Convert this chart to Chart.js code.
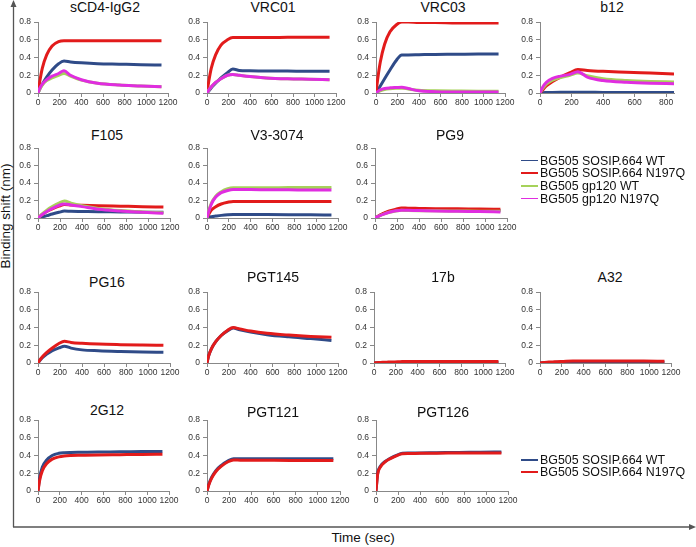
<!DOCTYPE html>
<html>
<head>
<meta charset="utf-8">
<script src="https://cdn.jsdelivr.net/npm/chart.js@4"></script>
<style>
  body { margin: 0; background: #fff; width: 696px; height: 547px; overflow: hidden; position: relative;
         font-family: "Liberation Sans", Arial, sans-serif; }
  canvas { position: absolute; }
  .ttl { position: absolute; font-size: 14px; color: #111; transform: translate(-50%, -50%); white-space: nowrap; }
  .legline { position: absolute; width: 17px; height: 1.5px; }
  .legtxt { position: absolute; font-size: 12.4px; color: #111; white-space: nowrap; transform: translateY(-50%); }
  .axtitle { position: absolute; font-size: 13.5px; color: #111; white-space: nowrap; }
</style>
</head>
<body>
<svg width="696" height="547" style="position:absolute;left:0;top:0">
  <line x1="13.5" y1="527" x2="13.5" y2="3" stroke="#555" stroke-width="1.3"/>
  <polygon points="13.5,0 10.5,7 16.5,7" fill="#555"/>
  <line x1="13" y1="527" x2="692" y2="527" stroke="#555" stroke-width="1.3"/>
  <polygon points="696,527 689,524 689,530" fill="#555"/>
</svg>
<div class="axtitle" style="left:5px;top:216px;transform:translate(-50%,-50%) rotate(-90deg)">Binding shift (nm)</div>
<div class="axtitle" style="left:363px;top:537px;transform:translate(-50%,-50%)">Time (sec)</div>

<script>
// tijdpunten (sec) en ticks
const timeSec = [0, 15, 40, 80, 130, 190, 240, 300, 400, 550, 750, 950, 1140];
const timeB12 = [0, 15, 40, 80, 130, 190, 240, 300, 400, 550, 700, 850];
const yTicks = [0, 0.2, 0.4, 0.6, 0.8];
const xTicks = [0, 200, 400, 600, 800, 1000, 1200];
const xTicksB12 = [0, 200, 400, 600, 800];

const seriesNames = ['BG505 SOSIP.664 WT', 'BG505 SOSIP.664 N197Q', 'BG505 gp120 WT', 'BG505 gp120 N197Q'];
const seriesColors = ['#2f4b88', '#e21b1b', '#a6d25a', '#e02de0'];

// sCD4-IgG2
const sCD4WT      = [0, 0.04, 0.10, 0.18, 0.26, 0.33, 0.36, 0.35, 0.34, 0.33, 0.325, 0.32, 0.315];
const sCD4N197Q   = [0, 0.12, 0.28, 0.43, 0.53, 0.58, 0.59, 0.59, 0.59, 0.59, 0.59, 0.59, 0.59];
const sCD4GpWT    = [0, 0.04, 0.09, 0.14, 0.17, 0.20, 0.22, 0.19, 0.145, 0.11, 0.09, 0.08, 0.07];
const sCD4GpN197Q = [0, 0.05, 0.10, 0.15, 0.19, 0.22, 0.25, 0.20, 0.15, 0.11, 0.09, 0.08, 0.07];
// VRC01
const vrc01WT      = [0, 0.02, 0.06, 0.11, 0.17, 0.23, 0.27, 0.255, 0.25, 0.248, 0.247, 0.245, 0.245];
const vrc01N197Q   = [0, 0.12, 0.28, 0.43, 0.54, 0.60, 0.625, 0.625, 0.625, 0.625, 0.628, 0.63, 0.63];
const vrc01GpWT    = [0, 0.03, 0.07, 0.12, 0.16, 0.20, 0.21, 0.20, 0.185, 0.17, 0.16, 0.155, 0.15];
const vrc01GpN197Q = [0, 0.03, 0.07, 0.12, 0.16, 0.20, 0.21, 0.20, 0.185, 0.17, 0.16, 0.155, 0.15];
// VRC03
const vrc03WT      = [0, 0.03, 0.08, 0.16, 0.26, 0.37, 0.43, 0.43, 0.432, 0.435, 0.437, 0.44, 0.44];
const vrc03N197Q   = [0, 0.15, 0.35, 0.55, 0.69, 0.77, 0.80, 0.80, 0.795, 0.795, 0.79, 0.79, 0.79];
const vrc03GpWT    = [0, 0.01, 0.025, 0.04, 0.048, 0.053, 0.055, 0.045, 0.03, 0.025, 0.022, 0.02, 0.02];
const vrc03GpN197Q = [0, 0.015, 0.035, 0.05, 0.058, 0.062, 0.065, 0.05, 0.025, 0.015, 0.012, 0.01, 0.01];
// b12
const b12WT      = [0, 0.003, 0.005, 0.007, 0.008, 0.008, 0.008, 0.008, 0.007, 0.007, 0.007, 0.007];
const b12N197Q   = [0, 0.03, 0.08, 0.13, 0.18, 0.23, 0.265, 0.255, 0.245, 0.235, 0.225, 0.215];
const b12GpWT    = [0, 0.045, 0.10, 0.145, 0.175, 0.20, 0.225, 0.195, 0.16, 0.14, 0.13, 0.125];
const b12GpN197Q = [0, 0.06, 0.12, 0.165, 0.19, 0.21, 0.24, 0.18, 0.14, 0.12, 0.11, 0.105];
// F105
const f105WT      = [0, 0.005, 0.013, 0.027, 0.045, 0.065, 0.08, 0.077, 0.075, 0.072, 0.07, 0.067, 0.065];
const f105N197Q   = [0, 0.015, 0.04, 0.075, 0.105, 0.135, 0.155, 0.15, 0.145, 0.14, 0.135, 0.13, 0.125];
const f105GpWT    = [0, 0.02, 0.05, 0.09, 0.13, 0.17, 0.195, 0.17, 0.14, 0.11, 0.085, 0.07, 0.06];
const f105GpN197Q = [0, 0.015, 0.04, 0.075, 0.11, 0.145, 0.16, 0.15, 0.13, 0.10, 0.08, 0.065, 0.055];
// V3-3074
const v3WT      = [0, 0.008, 0.015, 0.022, 0.03, 0.037, 0.04, 0.04, 0.04, 0.039, 0.038, 0.037, 0.035];
const v3N197Q   = [0, 0.04, 0.09, 0.13, 0.16, 0.18, 0.19, 0.19, 0.19, 0.19, 0.19, 0.19, 0.19];
const v3GpWT    = [0, 0.08, 0.17, 0.25, 0.30, 0.335, 0.345, 0.345, 0.345, 0.347, 0.348, 0.35, 0.35];
const v3GpN197Q = [0, 0.07, 0.16, 0.24, 0.29, 0.315, 0.325, 0.325, 0.325, 0.323, 0.322, 0.32, 0.32];
// PG9
const pg9WT      = [0, 0.01, 0.028, 0.05, 0.072, 0.09, 0.10, 0.098, 0.095, 0.092, 0.09, 0.087, 0.085];
const pg9N197Q   = [0, 0.01, 0.03, 0.055, 0.08, 0.10, 0.115, 0.112, 0.11, 0.107, 0.105, 0.102, 0.10];
const pg9GpWT    = [0, 0.01, 0.025, 0.045, 0.065, 0.08, 0.088, 0.086, 0.084, 0.082, 0.08, 0.078, 0.076];
const pg9GpN197Q = [0, 0.01, 0.025, 0.045, 0.066, 0.082, 0.09, 0.088, 0.085, 0.08, 0.077, 0.073, 0.07];
// PG16
const pg16WT    = [0, 0.025, 0.06, 0.10, 0.14, 0.17, 0.19, 0.168, 0.148, 0.138, 0.13, 0.124, 0.12];
const pg16N197Q = [0, 0.03, 0.07, 0.12, 0.17, 0.22, 0.245, 0.232, 0.222, 0.213, 0.207, 0.203, 0.20];
// PGT145
const pgt145WT    = [0, 0.08, 0.16, 0.24, 0.31, 0.365, 0.395, 0.375, 0.35, 0.32, 0.295, 0.275, 0.255];
const pgt145N197Q = [0, 0.08, 0.16, 0.24, 0.31, 0.37, 0.40, 0.385, 0.36, 0.335, 0.315, 0.30, 0.29];
// 17b
const b17WT    = [0, 0.002, 0.004, 0.005, 0.005, 0.005, 0.006, 0.006, 0.006, 0.006, 0.006, 0.006, 0.006];
const b17N197Q = [0, 0.002, 0.005, 0.008, 0.01, 0.012, 0.015, 0.018, 0.018, 0.018, 0.018, 0.018, 0.018];
// A32
const a32WT    = [0, 0.002, 0.004, 0.006, 0.007, 0.008, 0.008, 0.008, 0.008, 0.008, 0.008, 0.008, 0.008];
const a32N197Q = [0, 0.003, 0.006, 0.01, 0.013, 0.016, 0.02, 0.022, 0.022, 0.022, 0.022, 0.022, 0.02];
// 2G12
const g12WT    = [0, 0.15, 0.27, 0.35, 0.40, 0.425, 0.432, 0.435, 0.437, 0.44, 0.442, 0.445, 0.447];
const g12N197Q = [0, 0.12, 0.23, 0.31, 0.36, 0.385, 0.395, 0.40, 0.403, 0.407, 0.41, 0.413, 0.415];
// PGT121
const pgt121WT    = [0, 0.07, 0.15, 0.23, 0.29, 0.34, 0.365, 0.365, 0.365, 0.365, 0.365, 0.365, 0.365];
const pgt121N197Q = [0, 0.065, 0.14, 0.22, 0.28, 0.33, 0.35, 0.348, 0.347, 0.346, 0.345, 0.345, 0.345];
// PGT126
const pgt126WT    = [0, 0.20, 0.28, 0.33, 0.37, 0.405, 0.425, 0.428, 0.43, 0.432, 0.435, 0.437, 0.44];
const pgt126N197Q = [0, 0.19, 0.27, 0.325, 0.365, 0.40, 0.42, 0.422, 0.425, 0.427, 0.428, 0.43, 0.43];

// paneel posities: x0/x1 = pixel van 0 en xmax, yT/yB = pixel van 0.8 en 0
const panels = [
  { title: 'sCD4-IgG2', tx: 105, ty: 7,   x0: 38,  x1: 168, yT: 20,  yB: 93,  t: timeSec, xMax: 1200, xt: xTicks, s: [sCD4WT, sCD4N197Q, sCD4GpWT, sCD4GpN197Q] },
  { title: 'VRC01',     tx: 273, ty: 7,   x0: 207, x1: 336, yT: 20,  yB: 93,  t: timeSec, xMax: 1200, xt: xTicks, s: [vrc01WT, vrc01N197Q, vrc01GpWT, vrc01GpN197Q] },
  { title: 'VRC03',     tx: 443, ty: 7,   x0: 376, x1: 505, yT: 20,  yB: 93,  t: timeSec, xMax: 1200, xt: xTicks, s: [vrc03WT, vrc03N197Q, vrc03GpWT, vrc03GpN197Q] },
  { title: 'b12',       tx: 612, ty: 7,   x0: 540, x1: 674, yT: 20,  yB: 93,  t: timeB12, xMax: 850,  xt: xTicksB12, s: [b12WT, b12N197Q, b12GpWT, b12GpN197Q] },
  { title: 'F105',      tx: 107, ty: 135, x0: 38,  x1: 170, yT: 146, yB: 218, t: timeSec, xMax: 1200, xt: xTicks, s: [f105WT, f105N197Q, f105GpWT, f105GpN197Q] },
  { title: 'V3-3074',   tx: 277, ty: 135, x0: 207, x1: 338, yT: 146, yB: 218, t: timeSec, xMax: 1200, xt: xTicks, s: [v3WT, v3N197Q, v3GpWT, v3GpN197Q] },
  { title: 'PG9',       tx: 450, ty: 135, x0: 375, x1: 507, yT: 146, yB: 218, t: timeSec, xMax: 1200, xt: xTicks, s: [pg9WT, pg9N197Q, pg9GpWT, pg9GpN197Q] },
  { title: 'PG16',      tx: 107, ty: 282, x0: 38,  x1: 170, yT: 290, yB: 363, t: timeSec, xMax: 1200, xt: xTicks, s: [pg16WT, pg16N197Q] },
  { title: 'PGT145',    tx: 273, ty: 277, x0: 207, x1: 338, yT: 290, yB: 363, t: timeSec, xMax: 1200, xt: xTicks, s: [pgt145WT, pgt145N197Q] },
  { title: '17b',       tx: 443, ty: 277, x0: 374, x1: 505, yT: 290, yB: 363, t: timeSec, xMax: 1200, xt: xTicks, s: [b17WT, b17N197Q] },
  { title: 'A32',       tx: 610, ty: 277, x0: 540, x1: 671, yT: 290, yB: 363, t: timeSec, xMax: 1200, xt: xTicks, s: [a32WT, a32N197Q] },
  { title: '2G12',      tx: 107, ty: 410, x0: 38,  x1: 169, yT: 418, yB: 491, t: timeSec, xMax: 1200, xt: xTicks, s: [g12WT, g12N197Q] },
  { title: 'PGT121',    tx: 273, ty: 412, x0: 207, x1: 340, yT: 418, yB: 491, t: timeSec, xMax: 1200, xt: xTicks, s: [pgt121WT, pgt121N197Q] },
  { title: 'PGT126',    tx: 443, ty: 412, x0: 376, x1: 508, yT: 418, yB: 491, t: timeSec, xMax: 1200, xt: xTicks, s: [pgt126WT, pgt126N197Q] }
];

Chart.defaults.font.family = '"Liberation Sans", Arial, sans-serif';
Chart.defaults.color = '#333';

const LEFT = 34, TOP = 6, RIGHT = 14, BOTTOM = 16;

panels.forEach(p => {
  const t = document.createElement('div');
  t.className = 'ttl';
  t.style.left = p.tx + 'px';
  t.style.top = p.ty + 'px';
  t.textContent = p.title;
  document.body.appendChild(t);

  const c = document.createElement('canvas');
  const w = p.x1 - p.x0 + LEFT + RIGHT;
  const h = p.yB - p.yT + TOP + BOTTOM;
  c.width = w; c.height = h;
  c.style.left = (p.x0 - LEFT) + 'px';
  c.style.top = (p.yT - TOP) + 'px';
  c.style.width = w + 'px'; c.style.height = h + 'px';
  document.body.appendChild(c);

  new Chart(c, {
    type: 'line',
    data: {
      datasets: p.s.map((vals, i) => ({
        label: seriesNames[i],
        data: p.t.map((x, j) => ({ x: x, y: vals[j] })),
        borderColor: seriesColors[i],
        borderWidth: 3,
        pointRadius: 0,
        cubicInterpolationMode: 'monotone',
        order: p.s.length - i
      }))
    },
    options: {
      responsive: false,
      animation: false,
      layout: { padding: { left: 0, top: TOP, right: RIGHT, bottom: 0 }, autoPadding: false },
      scales: {
        x: {
          type: 'linear', min: 0, max: p.xMax,
          afterFit: s => { s.height = BOTTOM; },
          afterBuildTicks: s => { s.ticks = p.xt.map(v => ({ value: v })); },
          grid: { drawOnChartArea: false, tickLength: 4, color: '#888' },
          border: { color: '#888' },
          ticks: { font: { size: 8.5 }, padding: 1, maxRotation: 0, autoSkip: false, callback: v => String(v) }
        },
        y: {
          min: 0, max: 0.8,
          afterFit: s => { s.width = LEFT; },
          afterBuildTicks: s => { s.ticks = yTicks.map(v => ({ value: v })); },
          grid: { drawOnChartArea: false, tickLength: 4, color: '#888' },
          border: { color: '#888' },
          ticks: { font: { size: 8.5 }, padding: 3, callback: v => String(+v.toFixed(1)) }
        }
      },
      plugins: { legend: { display: false }, tooltip: { enabled: false } }
    }
  });
});

// legendas
function legend(names, ys) {
  names.forEach((n, i) => {
    const l = document.createElement('div');
    l.className = 'legline';
    l.style.left = '521px';
    l.style.top = (ys[i] - 0.75) + 'px';
    l.style.background = seriesColors[i];
    document.body.appendChild(l);
    const tx = document.createElement('div');
    tx.className = 'legtxt';
    tx.style.left = '540px';
    tx.style.top = ys[i] + 'px';
    tx.textContent = n;
    document.body.appendChild(tx);
  });
}
legend(seriesNames, [160.5, 173.2, 186, 198.7]);
legend(seriesNames.slice(0, 2), [460, 472]);
</script>
</body>
</html>
